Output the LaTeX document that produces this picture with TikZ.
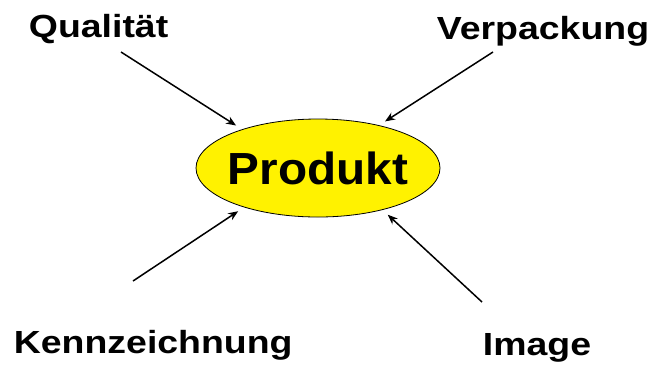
\documentclass[tikz,border=0pt]{standalone}
\usepackage{fontspec}
\setmainfont{Liberation Sans}
\usetikzlibrary{arrows,arrows.meta,positioning,shapes.geometric,calc}

\begin{document}
\begin{tikzpicture}[x=1pt, y=-1pt,
  every path/.style={line width=1.5pt},
  factor/.style={anchor=base west, inner sep=0pt, xscale=1.17, transform shape, font=\bfseries\fontsize{32}{36}\selectfont},
  influence/.style={-{Stealth[length=10pt,width=8pt]}, shorten >=7pt}]
\useasboundingbox (0,0) rectangle (652,365);

\node (prod) [draw, line width=0.8pt, ellipse, fill=yellow, minimum width=244pt, minimum height=98pt, inner xsep=-4pt, inner ysep=0pt, font=\bfseries\fontsize{45}{50}\selectfont] at (318,168) {\scalebox{1.06}[1]{Produkt}};

% -------------------------------

\node (quali) [factor] at (28,37) {Qualität};
\node (verp) [factor] at (436,39) {Verpackung};
\node (kennz) [factor] at (13,353) {Kennzeichnung};
\node (image) [factor] at (482,355) {Image};

\coordinate (quali-end) at (121,52);
\coordinate (verp-end) at (493,52);
\coordinate (kennz-end) at (133,281);
\coordinate (image-end) at (482,302);

\draw[influence] (quali-end) -- (prod.153.4);
\draw[influence] (verp-end) -- (prod.35.3);
\draw[influence] (kennz-end) -- (prod.208.3);
\draw[influence] (image-end) -- (prod.-33.5);
\end{tikzpicture}
\end{document}
